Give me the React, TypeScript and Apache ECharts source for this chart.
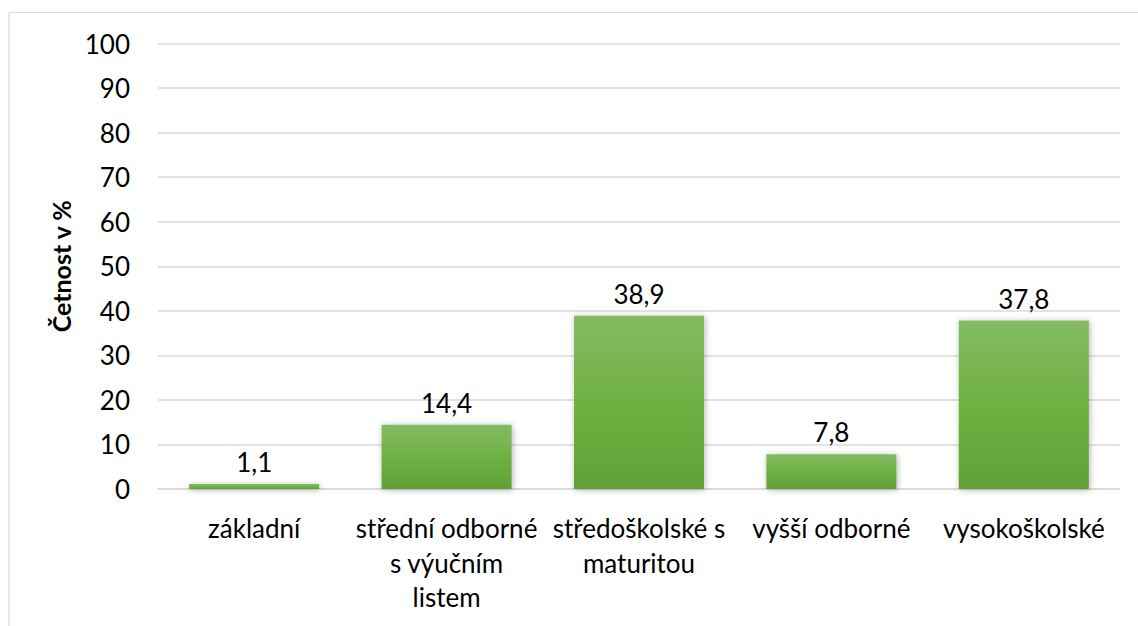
import React, { useEffect, useRef } from "react";
import * as echarts from "echarts";

const categories = ["základní", "střední odborné s výučním listem", "středoškolské s maturitou", "vyšší odborné", "vysokoškolské"];
const categoryLabels = ["základní", "střední odborné\ns výučním\nlistem", "středoškolské s\nmaturitou", "vyšší odborné", "vysokoškolské"];
const values = [1.1, 14.4, 38.9, 7.8, 37.8];
const yTitle = "Četnost v %";

export default function App() {
  const ref = useRef<HTMLDivElement>(null);
  useEffect(() => {
    document.body.style.margin = "0";
    const chart = echarts.init(ref.current!, null, { renderer: "svg" });
    const font = "Lato, 'Open Sans', sans-serif";
    chart.setOption({
      animation: false,
      backgroundColor: "#ffffff",
      textStyle: { fontFamily: font },
      grid: { left: 158, right: 18, top: 43.5, bottom: 137, containLabel: false },
      graphic: [
        { type: "line", shape: { x1: 9, y1: 12.5, x2: 1138, y2: 12.5 }, style: { stroke: "#d9d9d9", lineWidth: 1.2 } },
        { type: "line", shape: { x1: 9, y1: 12.5, x2: 9, y2: 626 }, style: { stroke: "#d9d9d9", lineWidth: 1.2 } },
      ],
      xAxis: {
        type: "category",
        data: categories,
        axisTick: { show: false },
        axisLine: { show: true, lineStyle: { color: "#d9d9d9", width: 1.5 } },
        axisLabel: {
          color: "#000",
          fontSize: 26,
          fontFamily: font,
          margin: 22,
          lineHeight: 34.5,
          interval: 0,
          formatter: (_v: string, i: number) => categoryLabels[i],
        },
      },
      yAxis: {
        type: "value",
        min: 0,
        max: 100,
        interval: 10,
        name: yTitle,
        nameLocation: "middle",
        nameGap: 62,
        nameTextStyle: { color: "#000", fontSize: 25, fontWeight: "bold", fontFamily: font },
        axisLine: { show: false },
        axisTick: { show: false },
        axisLabel: { color: "#000", fontSize: 26, fontFamily: font, margin: 28 },
        splitLine: { lineStyle: { color: "#d9d9d9", width: 1.5 } },
      },
      series: [
        {
          type: "bar",
          data: values,
          barWidth: "67.6%",
          itemStyle: {
            color: new echarts.graphic.LinearGradient(0, 0, 0, 1, [
              { offset: 0, color: "#84bb63" },
              { offset: 0.5, color: "#70b043" },
              { offset: 1, color: "#62a036" },
            ]),
            shadowColor: "rgba(0,0,0,0.3)",
            shadowBlur: 6,
            shadowOffsetX: 1,
            shadowOffsetY: 1,
          },
          label: {
            show: true,
            position: "top",
            distance: 9,
            color: "#000",
            fontSize: 26,
            fontFamily: font,
            formatter: (p: any) => String(p.value).replace(".", ","),
          },
        },
      ],
    });
    return () => chart.dispose();
  }, []);
  return <div ref={ref} style={{ width: 1138, height: 626 }} />;
}
